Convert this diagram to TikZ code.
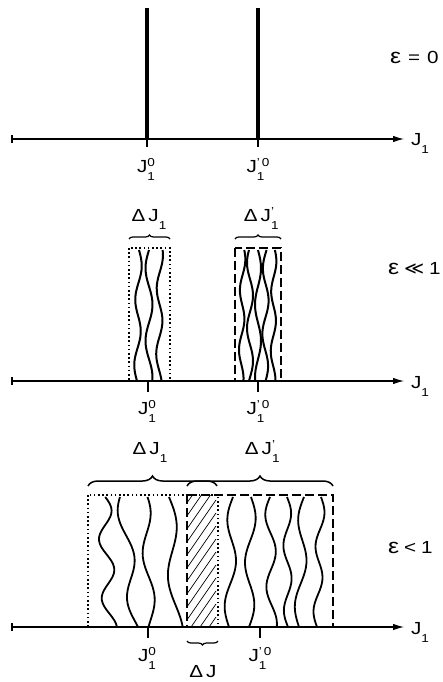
\documentclass[tikz,border=0pt]{standalone}
\usepackage{fontspec}
\setmainfont[FakeStretch=1.18]{Liberation Sans}
\newfontfamily\dvfont[FakeStretch=1.1]{DejaVu Sans}
\usetikzlibrary{decorations.pathreplacing,arrows.meta}
\newcommand\smallnum[1]{{\fontsize{11.5}{13}\selectfont #1}}
\newcommand\lowix[1]{\raisebox{-8pt}{\smallnum{#1}}}
\newcommand\highix[1]{\raisebox{5.5pt}{\smallnum{#1}}}
\newcommand\Jzero{J\rlap{\lowix{1}}\highix{0}}
\newcommand\Jpzero{J\rlap{\lowix{1}}\highix{'\,0}}
\newcommand\DJone{Δ\hspace{3pt}J\lowix{1}}
\newcommand\DJonep{Δ\hspace{3pt}J\rlap{\lowix{1}}\highix{'}}
\newcommand\Jaxis{J\lowix{1}}
\newcommand\epsym{\scalebox{1.2}{ε}}
% x0, amplitude, periods, phase, drift, ytop, ybot
\newcommand\wavy[8][]{\draw[wavyline,#1] plot[smooth,variable=\t,samples=40,domain=0:1]
  ({#2+#3*sin(\t*360*#4+#5)+#6*\t},{#7+\t*(#8-#7)});}
\begin{document}
\begin{tikzpicture}[x=1pt,y=-1pt,
  every node/.style={inner sep=0pt, outer sep=0pt},
  lab/.style={font=\fontsize{17.5}{20}\selectfont, anchor=base},
  axisline/.style={line width=1.1pt, -{Latex[length=11pt,width=6.5pt]}},
  spike/.style={line width=3.6pt},
  tickmark/.style={line width=1.1pt},
  wavyline/.style={line width=2pt},
  dotbox/.style={line width=1.8pt, dash pattern=on 1.6pt off 2.6pt},
  dashbox/.style={line width=1.6pt, dash pattern=on 9pt off 4pt},
  hatchline/.style={line width=0.7pt},
  brc/.style={decorate, decoration={brace, amplitude=#1}, line width=1.2pt},
  brc/.default=4pt
]
\useasboundingbox (0,0) rectangle (443,682);

% ---------------- panel 1 ----------------
\coordinate (a1s) at (12,139); \coordinate (a1e) at (404,139);
\draw[axisline] (a1s) -- (a1e);
\draw[tickmark] (12,135) -- (12,143);
\coordinate (s1b) at (147,139); \coordinate (s1t) at (147,8);
\coordinate (s2b) at (258,139); \coordinate (s2t) at (258,8);
\draw[spike] (s1t) -- (s1b);
\draw[spike] (s2t) -- (s2b);
\draw[tickmark] (s1b) -- ++(0,8);
\draw[tickmark] (s2b) -- ++(0,8);
\node[lab] (j1a) at (146,172) {\Jzero};
\node[lab] (j1b) at (258,172) {\Jpzero};
\node[lab, anchor=base west] (e1) at (390,64) {\epsym\hspace{7pt}=\hspace{7pt}0};
\node[lab, anchor=base west] (x1) at (411,146) {\Jaxis};

% ---------------- panel 2 ----------------
\coordinate (a2s) at (12,381); \coordinate (a2e) at (404,381);
\draw[axisline] (a2s) -- (a2e);
\draw[tickmark] (12,377) -- (12,385);
\draw[dotbox] (129,248) rectangle (170,381);
\draw[dashbox] (235,248) rectangle (281,381);
\wavy{139}{3}{2}{0}{-2}{250}{381}
\wavy{149}{3.5}{1.8}{180}{0}{250}{381}
\wavy{160}{3}{2}{60}{-1}{250}{381}
\wavy{243}{2.5}{2.2}{30}{-2}{250}{381}
\wavy{250}{3}{2}{200}{0}{250}{381}
\wavy{258}{3}{1.8}{0}{0}{250}{381}
\wavy{266}{3}{2}{170}{-1}{250}{381}
\wavy{274}{2.5}{2.2}{20}{-1}{250}{381}
\draw[brc] (129,239) -- (170,239);
\draw[brc] (235,239) -- (281,239);
\node[lab] (d2a) at (149,221) {\DJone};
\node[lab] (d2b) at (259,221) {\DJonep};
\draw[tickmark] (148,381) -- (148,392);
\draw[tickmark] (258,381) -- (258,392);
\node[lab] (j2a) at (147,414) {\Jzero};
\node[lab] (j2b) at (258,414) {\Jpzero};
\node[lab, anchor=base west] (e2) at (388,274) {\epsym\hspace{5pt}{\dvfont ≪}\hspace{5pt}1};
\node[lab, anchor=base west] (x2) at (411,388) {\Jaxis};

% ---------------- panel 3 ----------------
\coordinate (a3s) at (12,627); \coordinate (a3e) at (404,627);
\draw[axisline] (a3s) -- (a3e);
\draw[tickmark] (12,623) -- (12,631);
\begin{scope}
  \clip (187,495) rectangle (218,627);
  \foreach \k in {0,...,14} \draw[hatchline] (180,{500+\k*13}) -- ++(36,-52);
\end{scope}
\draw[dotbox] (88,495) rectangle (218,627);
\draw[dashbox] (187,495) rectangle (333,627);
\begin{scope}[wavyline/.style={line width=1.8pt}]
\wavy{104}{7}{2.2}{10}{6}{497}{627}
\wavy{122}{6}{1.5}{200}{14}{497}{627}
\wavy{145}{5}{1.5}{30}{6}{497}{627}
\wavy{169}{6}{1.2}{0}{8}{497}{627}
\wavy{233}{5}{1.5}{180}{-4}{497}{627}
\wavy{251}{5}{1.5}{0}{-2}{497}{627}
\wavy{270}{5}{1.8}{180}{2}{497}{627}
\wavy{287}{4}{2}{0}{1}{497}{627}
\wavy{304}{5}{1.5}{180}{-5}{497}{627}
\wavy{321}{4}{2}{0}{-4}{497}{627}
\end{scope}
\draw[brc=10pt, line width=1.5pt] (88,486) -- (217,486);
\draw[brc=10pt, line width=1.5pt] (187,486) -- (333,486);
\node[lab] (d3a) at (150,454) {\DJone};
\node[lab] (d3b) at (260,454) {\DJonep};
\draw[tickmark] (148,627) -- (148,638);
\draw[tickmark] (260,627) -- (260,638);
\node[lab] (j3a) at (147,661) {\Jzero};
\node[lab] (j3b) at (260,661) {\Jpzero};
\draw[brc] (218,641) -- (187,641);
\node[lab] (dj) at (203,677) {Δ\hspace{3pt}J};
\node[lab, anchor=base west] (e3) at (388,553) {\epsym\hspace{5pt}<\hspace{5pt}1};
\node[lab, anchor=base west] (x3) at (411,634) {\Jaxis};
\end{tikzpicture}
\end{document}
